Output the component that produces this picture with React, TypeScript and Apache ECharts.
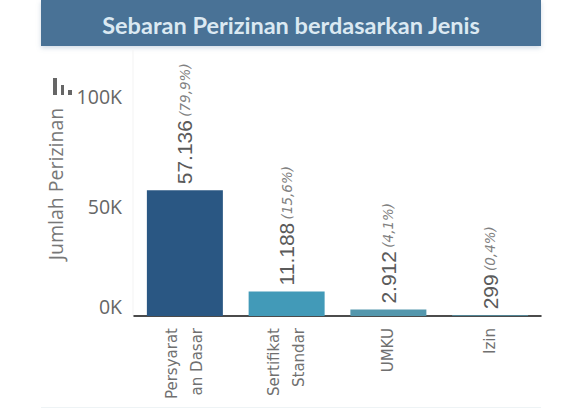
import React, { useEffect, useRef } from "react";
import * as echarts from "echarts";

const titleText = "Sebaran Perizinan berdasarkan Jenis";
const yAxisTitle = "Jumlah Perizinan";
const categories = ["Persyarat\nan Dasar", "Sertifikat\nStandar", "UMKU", "Izin"];
const values = [57136, 11188, 2912, 299];
const valueLabels = ["57.136", "11.188", "2.912", "299"];
const shareLabels = ["(79,9%)", "(15,6%)", "(4,1%)", "(0,4%)"];
const barColors = ["#2a5783", "#429ab8", "#5497ad", "#5497ad"];

export default function App() {
  const ref = useRef<HTMLDivElement>(null);
  useEffect(() => {
    document.body.style.margin = "0";
    const chart = echarts.init(ref.current!, null, { renderer: "svg" });
    chart.setOption({
      animation: false,
      backgroundColor: "#ffffff",
      grid: { left: 134, right: 37, top: 52, bottom: 93, containLabel: false },
      title: {
        text: titleText,
        left: 286,
        top: 8,
        textAlign: "center",
        textStyle: { fontFamily: "Lato", fontSize: 23.5, fontWeight: "bold", color: "#dbe9f2" },
      },
      graphic: [
        { type: "rect", z: -1, shape: { x: 41, y: 0, width: 500, height: 46 }, style: { fill: "#4a7296", shadowBlur: 5, shadowColor: "rgba(120,150,180,0.35)", shadowOffsetY: 2 } },
        { type: "line", z: -1, shape: { x1: 133, y1: 50, x2: 133, y2: 316 }, style: { stroke: "#f3f3f3", lineWidth: 1 } },
        { type: "line", z: -1, shape: { x1: 41, y1: 407.5, x2: 541, y2: 407.5 }, style: { stroke: "#eef3f5", lineWidth: 1 } },
        { type: "rect", shape: { x: 53, y: 78, width: 4, height: 17 }, style: { fill: "#666666" } },
        { type: "rect", shape: { x: 61, y: 85, width: 3, height: 10 }, style: { fill: "#666666" } },
        { type: "rect", shape: { x: 68, y: 90, width: 4, height: 5 }, style: { fill: "#666666" } },
      ],
      xAxis: {
        type: "category",
        data: categories,
        axisLine: { show: true, lineStyle: { color: "#111111", width: 1.5 } },
        axisTick: { show: false },
        axisLabel: {
          interval: 0,
          rotate: 90,
          margin: 12,
          fontFamily: "DejaVu Sans",
          fontSize: 15,
          lineHeight: 25,
          color: "#707070",
          align: "right",
          verticalAlign: "middle",
        },
      },
      yAxis: {
        type: "value",
        min: 0,
        max: 120000,
        interval: 50000,
        name: yAxisTitle,
        nameLocation: "middle",
        nameRotate: 90,
        nameGap: 55,
        nameTextStyle: { fontFamily: "Open Sans", fontSize: 19.5, color: "#777777" },
        splitLine: { show: false },
        axisLine: { show: false },
        axisTick: { show: false },
        axisLabel: {
          margin: 12,
          showMaxLabel: false,
          fontFamily: "Open Sans",
          fontSize: 19.5,
          color: "#666666",
          verticalAlignMinLabel: "bottom",
          formatter: (v: number) => `${v / 1000}K`,
        },
      },
      series: [
        {
          type: "bar",
          barWidth: 76,
          data: values.map((value, i) => ({ value, itemStyle: { color: barColors[i] } })),
          label: {
            show: true,
            position: "top",
            rotate: 90,
            align: "left",
            verticalAlign: "middle",
            distance: 6,
            formatter: (p: any) => `{v|${valueLabels[p.dataIndex]}} {s|${shareLabels[p.dataIndex]}}`,
            rich: {
              v: { fontFamily: "Liberation Sans", fontSize: 21, color: "#5a5a5a" },
              s: { fontFamily: "DejaVu Sans", fontSize: 13.5, fontStyle: "italic", color: "#808080" },
            },
          },
        },
      ],
    });
    return () => chart.dispose();
  }, []);
  return <div ref={ref} style={{ width: 578, height: 409 }} />;
}
